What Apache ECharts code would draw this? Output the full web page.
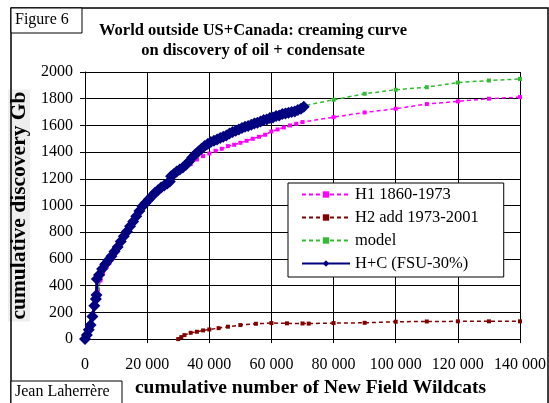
<!DOCTYPE html>
<html>
<head>
<meta charset="utf-8">
<script src="https://cdn.jsdelivr.net/npm/echarts@6/dist/echarts.min.js"></script>
<style>html,body{margin:0;padding:0;background:#fff;}#c{width:549px;height:403px;}</style>
</head>
<body>
<div id="c"></div>
<script>
// H+C (FSU-30%)
const hcX = [0,600,1200,1800,2400,3000,3500,3700,3800,4500,5500,6500,7500,8500,9500,10500,11500,12500,13500,14500,15500,16500,17500,18500,19500,20500,21500,22500,23500,24500,25500,26500,27300,27700,28500,29500,30500,31500,32500,33500,34500,35500,36500,37500,38500,39500,40500,41500,42500,43500,44500,45500,46500,47500,48500,49500,50500,51500,52500,53500,54500,55500,56500,57500,58500,59500,60500,61500,62500,63500,64500,65500,66500,67500,68500,69500,70400];
const hcY = [0,30,70,105,170,250,300,330,450,480,525,560,590,620,655,690,730,770,805,845,880,920,960,995,1020,1045,1070,1095,1115,1135,1150,1165,1180,1220,1235,1255,1270,1285,1305,1330,1360,1385,1405,1425,1445,1460,1475,1485,1495,1505,1515,1525,1540,1550,1560,1570,1580,1590,1595,1605,1615,1620,1630,1640,1645,1655,1660,1670,1675,1685,1690,1695,1700,1705,1715,1725,1740];
// H1 1860-1973
const h1X = [0,1000,2000,2700,3500,4200,5000,5800,7000,8000,9000,10000,12000,14000,16000,18000,20000,22000,24000,26000,28000,30000,32000,34000,36000,38000,40000,42000,44000,46000,48000,50000,52000,54000,56000,58000,60000,62000,64000,66000,68000,70000,80000,90000,100000,110000,120000,130000,140000];
const h1Y = [0,60,130,160,300,370,440,490,540,575,610,650,740,830,910,990,1040,1090,1130,1165,1210,1250,1280,1310,1345,1370,1390,1410,1425,1445,1455,1470,1485,1500,1515,1530,1555,1570,1585,1600,1612,1625,1662,1697,1725,1760,1780,1800,1812];
// H2 add 1973-2001
const h2X = [30000,31000,32000,34000,36000,38000,40000,43000,46000,50000,55000,60000,65000,70000,72000,80000,90000,100000,110000,120000,130000,140000];
const h2Y = [0,15,30,47,55,65,72,82,93,105,115,120,118,117,116,120,122,130,132,133,133,133];
// model
const mX = [0,2000,4000,6000,8000,10000,15000,20000,25000,30000,35000,40000,45000,50000,55000,60000,65000,70000,80000,90000,100000,110000,120000,130000,140000];
const mY = [0,150,380,520,600,680,870,1040,1160,1260,1370,1450,1530,1595,1640,1680,1715,1745,1792,1837,1867,1886,1921,1936,1948];

const yTicks = [0,200,400,600,800,1000,1200,1400,1600,1800,2000];
const xTicks = [0,20000,40000,60000,80000,100000,120000,140000];

const FONT = 'Liberation Serif, Times New Roman, serif';
const zip = (a,b) => a.map((v,i)=>[v,b[i]]);

const chart = echarts.init(document.getElementById('c'), null, {renderer:'canvas'});
chart.setOption({
  animation: false,
  backgroundColor: '#fff',
  grid: {left: 85, top: 72, right: 23, bottom: 60, containLabel: false},
  xAxis: {
    type: 'value', min: xTicks[0], max: xTicks[xTicks.length-1], interval: 20000,
    name: 'cumulative number of New Field Wildcats',
    nameLocation: 'middle', nameGap: 38,
    nameTextStyle: {fontFamily: FONT, fontWeight: 'bold', fontSize: 19.5, color: '#000', padding: [0,0,0,16]},
    axisLine: {show: true, lineStyle: {color: '#000', width: 1}},
    axisTick: {show: true, length: 4, lineStyle: {color: '#000'}},
    axisLabel: {fontFamily: FONT, fontSize: 16, color: '#000', margin: 18,
      formatter: v => v === 0 ? '0' : (v/1000) + ' 000'},
    splitLine: {show: true, lineStyle: {color: '#000', width: 1}}
  },
  yAxis: {
    type: 'value', min: yTicks[0], max: yTicks[yTicks.length-1], interval: 200,
    name: 'cumulative discovery Gb',
    nameLocation: 'middle', nameGap: 46,
    nameTextStyle: {fontFamily: FONT, fontWeight: 'bold', fontSize: 21.5, color: '#000', backgroundColor: '#eeeeee', padding: [0,2]},
    axisLine: {show: true, lineStyle: {color: '#000', width: 1}},
    axisTick: {show: true, length: 5, lineStyle: {color: '#000'}},
    axisLabel: {fontFamily: FONT, fontSize: 16, color: '#000', margin: 12, formatter: v => String(v)},
    splitLine: {show: true, lineStyle: {color: '#000', width: 1}}
  },
  legend: {
    orient: 'vertical', left: 288, top: 183,
    backgroundColor: '#fff', borderColor: '#000', borderWidth: 1,
    padding: [3, 25, 5, 13], itemGap: 6, itemWidth: 48, itemHeight: 8,
    textStyle: {fontFamily: FONT, fontSize: 16.5, color: '#000', lineHeight: 17},
    data: ['H1 1860-1973','H2 add 1973-2001','model','H+C (FSU-30%)']
  },
  series: [
    {name: 'H1 1860-1973', type: 'line', data: zip(h1X,h1Y), symbol: 'rect', symbolSize: 4,
     itemStyle: {color: '#ff00ff'}, lineStyle: {color: '#ff00ff', width: 1.5, type: [4,3]}, z: 2},
    {name: 'H2 add 1973-2001', type: 'line', data: zip(h2X,h2Y), symbol: 'rect', symbolSize: 4,
     itemStyle: {color: '#800000'}, lineStyle: {color: '#800000', width: 1.5, type: [4,3]}, z: 2},
    {name: 'model', type: 'line', data: zip(mX,mY), symbol: 'rect', symbolSize: 4,
     itemStyle: {color: '#33bb33'}, lineStyle: {color: '#33bb33', width: 1.5, type: [4,3]}, z: 2},
    {name: 'H+C (FSU-30%)', type: 'line', data: zip(hcX,hcY), symbol: 'diamond', symbolSize: 12,
     itemStyle: {color: '#000080'}, lineStyle: {color: '#000080', width: 3}, z: 3}
  ],
  graphic: [
    {type: 'rect', shape: {x: 11, y: 8, width: 537, height: 410}, style: {fill: null, stroke: '#000', lineWidth: 1.5}, silent: true, z: 100},
    {type: 'text', style: {text: 'World outside US+Canada: creaming curve', x: 253, y: 31, align: 'center', verticalAlign: 'middle', font: 'bold 16.5px ' + FONT, fill: '#000'}, z: 100},
    {type: 'text', style: {text: 'on discovery of oil + condensate', x: 253, y: 51, align: 'center', verticalAlign: 'middle', font: 'bold 16.5px ' + FONT, fill: '#000'}, z: 100},
    {type: 'rect', shape: {x: 11, y: 8, width: 71, height: 25}, style: {fill: '#fff', stroke: '#000', lineWidth: 1}, z: 100},
    {type: 'text', style: {text: 'Figure 6', x: 15, y: 20, verticalAlign: 'middle', font: '16px ' + FONT, fill: '#000'}, z: 101},
    {type: 'rect', shape: {x: 11, y: 381, width: 111, height: 25}, style: {fill: '#fff', stroke: '#000', lineWidth: 1}, z: 100},
    {type: 'text', style: {text: 'Jean Laherrère', x: 15, y: 392, verticalAlign: 'middle', font: '16px ' + FONT, fill: '#000'}, z: 101}
  ]
});
</script>
</body>
</html>
